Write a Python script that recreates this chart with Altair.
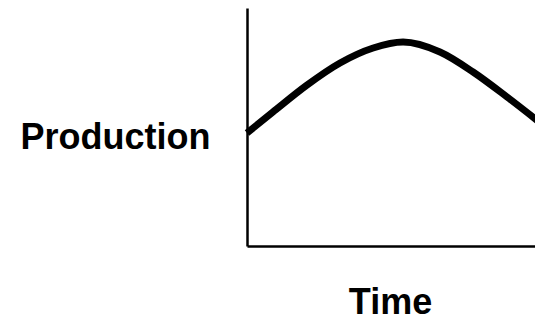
import altair as alt
import pandas as pd

# Data (arbitrary units)
time = [0.0, 0.90, 2.08, 3.23, 4.38, 5.42, 6.70, 7.85, 9.03, 10.28]
production = [4.75, 5.63, 6.76, 7.69, 8.32, 8.57, 8.15, 7.31, 6.26, 5.08]

df = pd.DataFrame({"Time": time, "Production": production})

FONT = "Liberation Sans, Arial, sans-serif"

chart = (
    alt.Chart(df)
    .mark_line(color="black", strokeWidth=7, strokeCap="butt", interpolate="monotone", clip=False)
    .encode(
        x=alt.X(
            "Time:Q",
            scale=alt.Scale(domain=[0, 10], nice=False, zero=False),
            axis=alt.Axis(
                title="Time",
                domain=True,
                domainColor="black",
                domainWidth=2.5,
                ticks=False,
                labels=False,
                grid=False,
                titleFont=FONT,
                titleFontSize=36,
                titleFontWeight="bold",
                titleColor="black",
                titleAlign="center",
                titleBaseline="alphabetic",
                titleX=143,
                titleY=67,
            ),
        ),
        y=alt.Y(
            "Production:Q",
            scale=alt.Scale(domain=[0, 10], nice=False, zero=False),
            axis=alt.Axis(
                title="Production",
                domain=True,
                domainColor="black",
                domainWidth=2.5,
                ticks=False,
                labels=False,
                grid=False,
                titleFont=FONT,
                titleFontSize=36,
                titleFontWeight="bold",
                titleColor="black",
                titleAngle=0,
                titleAlign="right",
                titleBaseline="alphabetic",
                titleX=-37,
                titleY=140,
            ),
        ),
    )
    .properties(
        width=288,
        height=238,
        autosize=alt.AutoSizeParams(type="none"),
        padding={"left": 239, "top": 0, "right": 0, "bottom": 75},
        background="white",
    )
    .configure_view(stroke=None)
)

chart.save("out.html", embed_options={"renderer": "svg", "actions": False})
